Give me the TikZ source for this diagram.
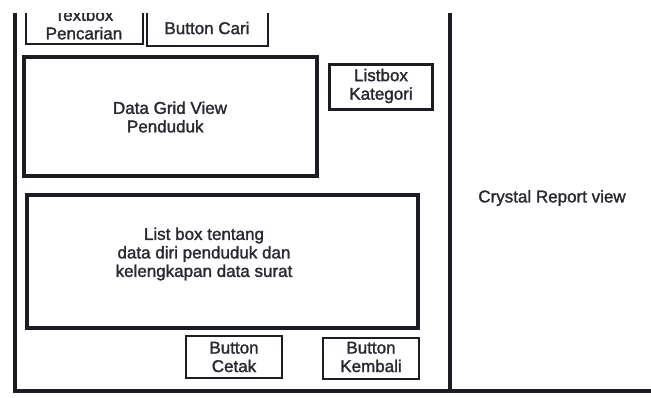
\documentclass[tikz,border=0pt]{standalone}
\usepackage{fontspec}
\setmainfont{Liberation Sans}
\newfontfamily\heavyfont[FakeBold=1.6]{Liberation Sans}
\definecolor{ink}{RGB}{28,28,38}
\definecolor{txt}{RGB}{40,40,52}
\tikzset{
  frameline/.style={draw=ink, line width=4pt},
  thickbox/.style={draw=ink, line width=4pt, rectangle, inner sep=0pt},
  thinbox/.style={draw=ink, line width=2.5pt, rectangle, inner sep=0pt},
  lbl/.style={text=txt, font=\heavyfont\fontsize{17}{18.5}\selectfont, align=center, inner sep=0pt}
}
\begin{document}
\begin{tikzpicture}[x=1pt,y=-1pt]
\useasboundingbox (0,0) rectangle (651,397);
\begin{scope}
\clip (0,13) rectangle (651,397);
% frame lines
\coordinate (ltop) at (14.5,13);
\coordinate (lbot) at (14.5,391);
\coordinate (rbot) at (655,391);
\coordinate (mtop) at (450,13);
\coordinate (mbot) at (450,391);
\draw[frameline] (ltop) -- (lbot) -- (rbot);
\draw[frameline] (mtop) -- (mbot);
% boxes
\node[thinbox, minimum width=117pt, minimum height=45pt] (tb) at (84.5,21.5) {};
\node[thinbox, minimum width=121pt, minimum height=47pt] (bc) at (207.5,22.5) {};
\node[thickbox, minimum width=293pt, minimum height=119pt] (dg) at (170.5,116.5) {};
\node[thinbox, minimum width=103pt, minimum height=45pt] (lk) at (381,87) {};
\node[thickbox, minimum width=391pt, minimum height=133pt] (lb) at (222.5,261.5) {};
\node[thinbox, minimum width=96pt, minimum height=42pt] (bct) at (234,357) {};
\node[thinbox, minimum width=96pt, minimum height=41pt] (bk) at (371,358.5) {};
% labels
\node[lbl] (tbt) at (84,24) {Textbox\\Pencarian};
\node[lbl] (bct1) at (207,28) {Button Cari};
\node[lbl] (dgt) at (170,117) {Data Grid View\\Penduduk\hphantom{n}};
\node[lbl] (lkt) at (381,86) {Listbox\\Kategori};
\node[lbl] (lbt) at (204,254) {List box tentang\\data diri penduduk dan\\kelengkapan data surat};
\node[lbl] (bctt) at (234,357) {Button\\Cetak};
\node[lbl] (bkt) at (371,357) {Button\\Kembali};
\node[lbl] (crv) at (552,198) {Crystal Report view};
\end{scope}
\end{tikzpicture}
\end{document}
